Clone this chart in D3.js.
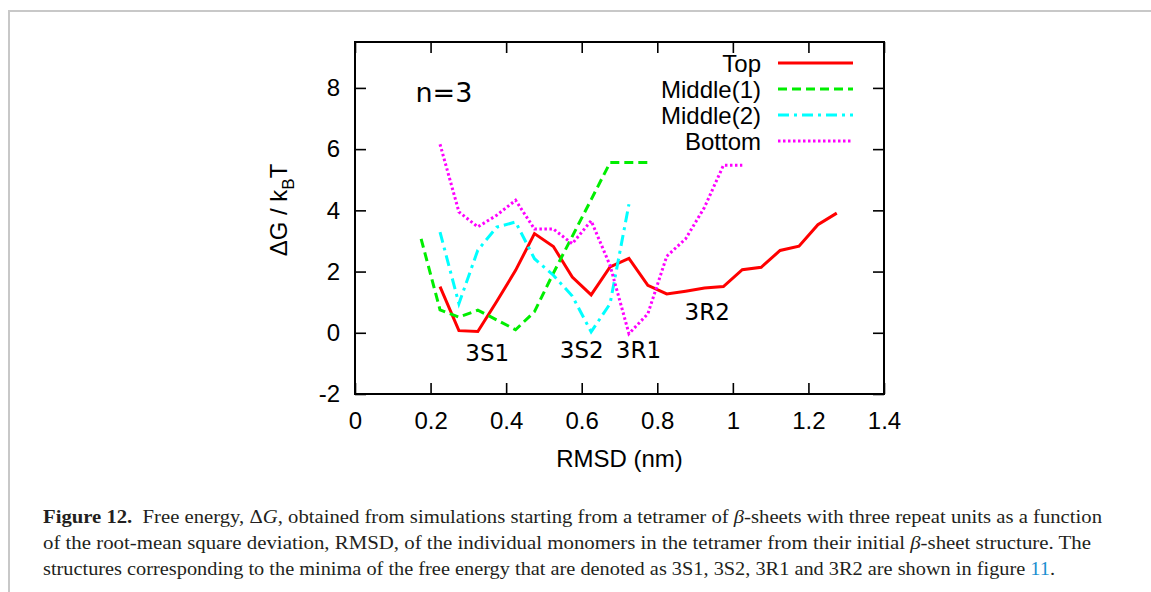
<!DOCTYPE html>
<html>
<head>
<meta charset="utf-8">
<script src="https://cdn.jsdelivr.net/npm/d3@7"></script>
<style>
  body { margin: 0; background: #fff; }
  .tick text, .aText { font-family: "Liberation Sans", Arial, sans-serif; }
  .note { font-family: "DejaVu Sans", sans-serif; }
  .caption { font-family: "Liberation Serif", serif; font-size: 18.5px; fill: #231f20; }
</style>
</head>
<body>
<div id="chart"></div>
<script>
var svgWidth = 1151;
var svgHeight = 592;

// RMSD (nm) bins and free energy for each layer
var xTop = [0.225, 0.275, 0.325, 0.375, 0.425, 0.475, 0.525, 0.575, 0.625, 0.675, 0.725, 0.775, 0.825, 0.875, 0.925, 0.975, 1.025, 1.075, 1.125, 1.175, 1.225, 1.275];
var gTop = [1.51, 0.07, 0.04, 1.02, 2.04, 3.24, 2.82, 1.82, 1.24, 2.15, 2.43, 1.55, 1.27, 1.36, 1.46, 1.51, 2.06, 2.14, 2.69, 2.83, 3.53, 3.91];

var xMid1 = [0.175, 0.225, 0.275, 0.325, 0.375, 0.425, 0.475, 0.525, 0.575, 0.625, 0.675, 0.725, 0.775];
var gMid1 = [3.07, 0.75, 0.51, 0.74, 0.42, 0.1, 0.69, 1.95, 3.15, 4.35, 5.56, 5.56, 5.56];

var xMid2 = [0.225, 0.275, 0.325, 0.375, 0.425, 0.475, 0.525, 0.575, 0.625, 0.675, 0.725];
var gMid2 = [3.29, 0.95, 2.7, 3.45, 3.62, 2.42, 1.88, 1.2, 0.03, 0.95, 4.2];

var xBot = [0.225, 0.275, 0.325, 0.375, 0.425, 0.475, 0.525, 0.575, 0.625, 0.675, 0.725, 0.775, 0.825, 0.875, 0.925, 0.975, 1.025];
var gBot = [6.16, 3.95, 3.46, 3.84, 4.33, 3.39, 3.39, 2.91, 3.66, 2.2, -0.03, 0.62, 2.5, 3.07, 4.1, 5.47, 5.47];

var seriesNames = ["Top", "Middle(1)", "Middle(2)", "Bottom"];
var seriesColors = ["#ff0000", "#00ee00", "#00ffff", "#ff00ff"];
var seriesDash = [null, "9,5", "11,5,3,5", "2.5,2.5"];

var xTicks = [0, 0.2, 0.4, 0.6, 0.8, 1, 1.2, 1.4];
var yTicks = [-2, 0, 2, 4, 6, 8];

var minima = [
  {name: "3S1", x: 0.35, y: -0.92},
  {name: "3S2", x: 0.6, y: -0.82},
  {name: "3R1", x: 0.75, y: -0.82},
  {name: "3R2", x: 0.932, y: 0.42}
];

var margin = {top: 42, right: 267, bottom: 198, left: 355};
var width = svgWidth - margin.left - margin.right;
var height = svgHeight - margin.top - margin.bottom;

var svg = d3.select("#chart")
  .append("svg")
  .attr("width", svgWidth)
  .attr("height", svgHeight);

// light page frame
svg.append("path")
  .attr("d", "M9,592V11H1151")
  .attr("fill", "none")
  .attr("stroke", "#c8c8c8")
  .attr("stroke-width", 2);

var chartGroup = svg.append("g")
  .attr("transform", `translate(${margin.left}, ${margin.top})`);

var xLinearScale = d3.scaleLinear().domain([0, 1.4]).range([0, width]);
var yLinearScale = d3.scaleLinear().domain([-2, 9.5]).range([height, 0]);

var plainFormat = d => String(d);

var bottomAxis = d3.axisBottom(xLinearScale).tickValues(xTicks).tickSize(-11).tickPadding(18).tickFormat(plainFormat);
var leftAxis = d3.axisLeft(yLinearScale).tickValues(yTicks).tickSize(-11).tickPadding(15).tickFormat(plainFormat);
var topAxis = d3.axisTop(xLinearScale).tickValues(xTicks).tickSize(-11).tickFormat("");
var rightAxis = d3.axisRight(yLinearScale).tickValues(yTicks).tickSize(-11).tickFormat("");

function styleAxis(g) {
  g.select(".domain").remove();
  g.selectAll(".tick line").attr("stroke", "#000").attr("stroke-width", 1.6);
  g.selectAll(".tick text").attr("font-size", 24).attr("fill", "#000");
}

chartGroup.append("g").attr("transform", `translate(0, ${height})`).call(bottomAxis).call(styleAxis);
chartGroup.append("g").call(leftAxis).call(styleAxis);
chartGroup.append("g").call(topAxis).call(styleAxis);
chartGroup.append("g").attr("transform", `translate(${width}, 0)`).call(rightAxis).call(styleAxis);

chartGroup.append("rect")
  .attr("width", width)
  .attr("height", height)
  .attr("fill", "none")
  .attr("stroke", "#000")
  .attr("stroke-width", 2);

// axis labels
var yLab = chartGroup.append("text")
  .attr("class", "aText")
  .attr("transform", `translate(-68, ${height / 2 - 8}) rotate(-90)`)
  .attr("text-anchor", "middle")
  .attr("font-size", 24);
yLab.append("tspan").text("\u0394G / k");
yLab.append("tspan").attr("font-size", 17).attr("dy", 7).text("B");
yLab.append("tspan").attr("dy", -7).text("T");

chartGroup.append("text")
  .attr("class", "aText")
  .attr("x", width / 2)
  .attr("y", height + 73)
  .attr("text-anchor", "middle")
  .attr("font-size", 24)
  .text("RMSD (nm)");

// curves
var allX = [xTop, xMid1, xMid2, xBot];
var allG = [gTop, gMid1, gMid2, gBot];

var line = d3.line()
  .x(d => xLinearScale(d[0]))
  .y(d => yLinearScale(d[1]));

seriesNames.forEach(function(name, i) {
  var pts = allX[i].map((x, j) => [x, allG[i][j]]);
  chartGroup.append("path")
    .datum(pts)
    .attr("d", line)
    .attr("fill", "none")
    .attr("stroke", seriesColors[i])
    .attr("stroke-width", 3)
    .attr("stroke-dasharray", seriesDash[i]);
});

// legend
var legend = chartGroup.selectAll("g.legend")
  .data(seriesNames)
  .enter()
  .append("g")
  .attr("class", "legend")
  .attr("transform", (d, i) => `translate(0, ${21 + i * 26})`);

legend.append("text")
  .attr("class", "aText")
  .attr("x", 406)
  .attr("y", 8.5)
  .attr("text-anchor", "end")
  .attr("font-size", 24)
  .text(d => d);

legend.append("line")
  .attr("x1", 423)
  .attr("x2", 498)
  .attr("stroke", (d, i) => seriesColors[i])
  .attr("stroke-width", 3)
  .attr("stroke-dasharray", (d, i) => seriesDash[i]);

chartGroup.append("text")
  .attr("class", "note")
  .attr("x", xLinearScale(0.16))
  .attr("y", yLinearScale(7.55))
  .attr("font-size", 27)
  .text("n=3");

chartGroup.selectAll("text.minLabel")
  .data(minima)
  .enter()
  .append("text")
  .attr("class", "note minLabel")
  .attr("x", d => xLinearScale(d.x))
  .attr("y", d => yLinearScale(d.y))
  .attr("text-anchor", "middle")
  .attr("font-size", 23)
  .text(d => d.name);

// caption
var cap = svg.append("g").attr("class", "caption");

var l1 = cap.append("text").attr("x", 43).attr("y", 523).attr("textLength", 1059).attr("lengthAdjust", "spacingAndGlyphs");
l1.append("tspan").attr("font-weight", "bold").text("Figure 12.");
l1.append("tspan").text("\u2002Free energy, \u0394");
l1.append("tspan").attr("font-style", "italic").text("G");
l1.append("tspan").text(", obtained from simulations starting from a tetramer of ");
l1.append("tspan").attr("font-style", "italic").text("\u03b2");
l1.append("tspan").text("-sheets with three repeat units as a function");

var l2 = cap.append("text").attr("x", 43).attr("y", 549).attr("textLength", 1048).attr("lengthAdjust", "spacingAndGlyphs");
l2.append("tspan").text("of the root-mean square deviation, RMSD, of the individual monomers in the tetramer from their initial ");
l2.append("tspan").attr("font-style", "italic").text("\u03b2");
l2.append("tspan").text("-sheet structure. The");

var l3 = cap.append("text").attr("x", 43).attr("y", 575).attr("textLength", 1012).attr("lengthAdjust", "spacingAndGlyphs");
l3.append("tspan").text("structures corresponding to the minima of the free energy that are denoted as 3S1, 3S2, 3R1 and 3R2 are shown in figure ");
l3.append("tspan").attr("fill", "#1a8fd0").text("11");
l3.append("tspan").text(".");
</script>
</body>
</html>
